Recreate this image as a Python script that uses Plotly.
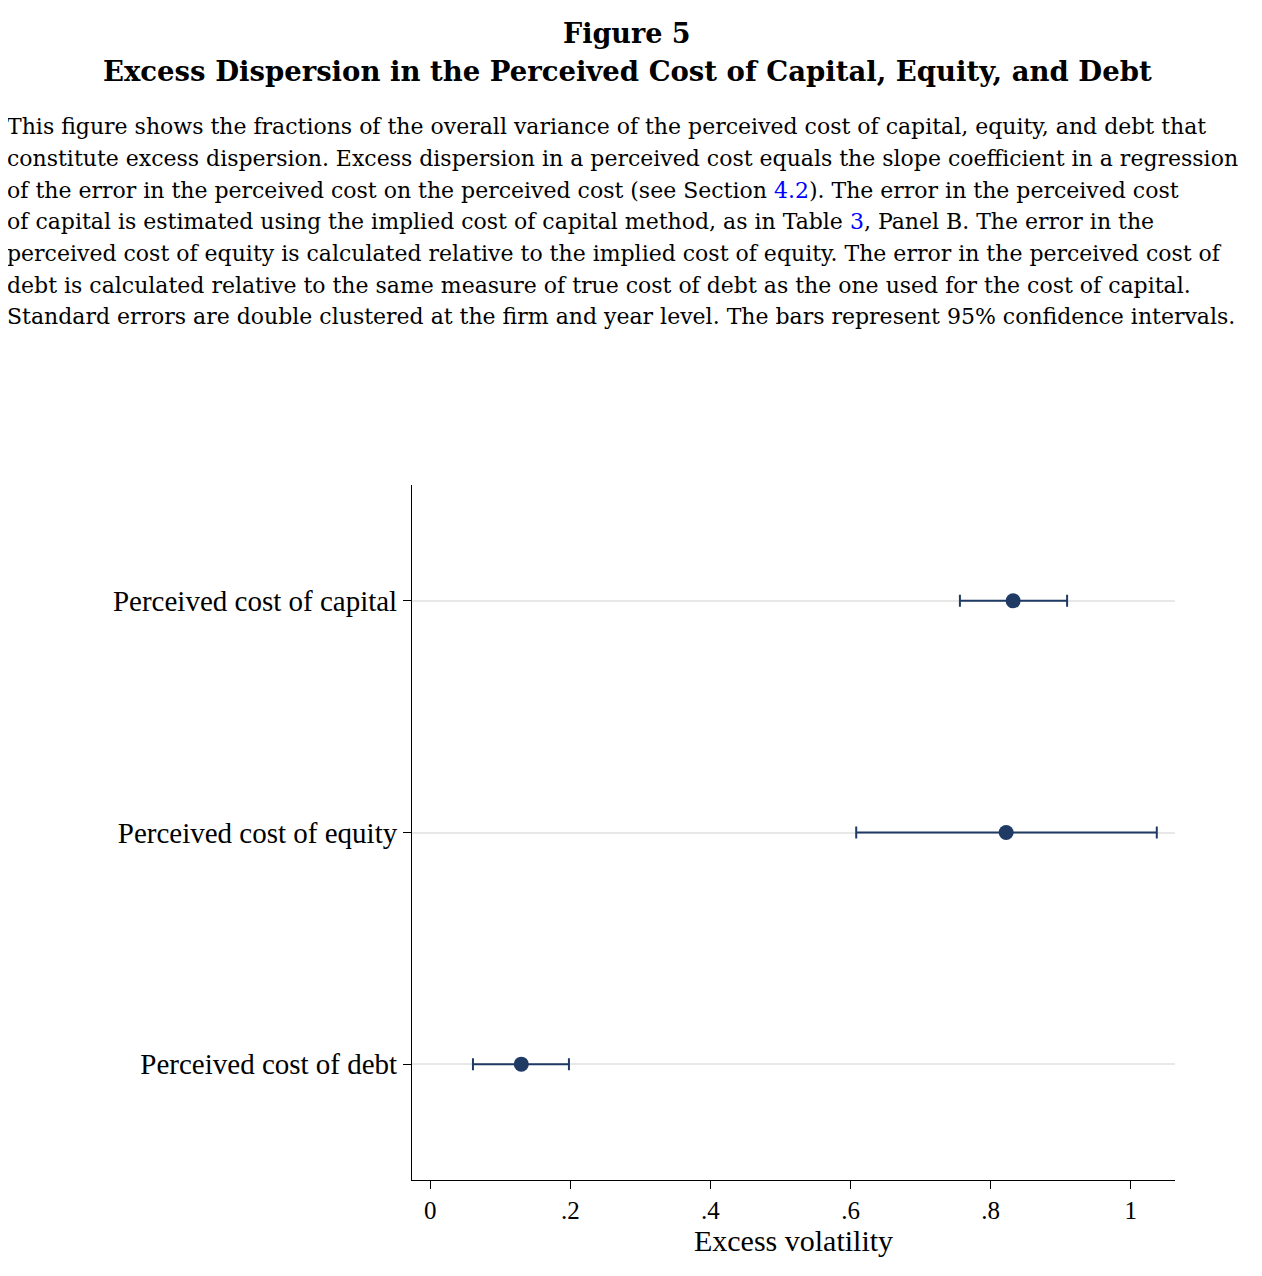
import plotly.graph_objects as go

categories = ["Perceived cost of debt", "Perceived cost of equity", "Perceived cost of capital"]
estimate = [0.130, 0.822, 0.832]
ci_low = [0.061, 0.608, 0.756]
ci_high = [0.198, 1.037, 0.909]

tick_vals = [0, 0.2, 0.4, 0.6, 0.8, 1]
tick_text = ["0", ".2", ".4", ".6", ".8", "1"]

caption = [
    "This figure shows the fractions of the overall variance of the perceived cost of capital, equity, and debt that",
    "constitute excess dispersion. Excess dispersion in a perceived cost equals the slope coefficient in a regression",
    "of the error in the perceived cost on the perceived cost (see Section <span style='color:blue'>4.2</span>). The error in the perceived cost",
    "of capital is estimated using the implied cost of capital method, as in Table <span style='color:blue'>3</span>, Panel B. The error in the",
    "perceived cost of equity is calculated relative to the implied cost of equity. The error in the perceived cost of",
    "debt is calculated relative to the same measure of true cost of debt as the one used for the cost of capital.",
    "Standard errors are double clustered at the firm and year level. The bars represent 95% confidence intervals.",
]

navy = "#1f3b63"
fig = go.Figure()
fig.add_trace(go.Scatter(
    x=estimate, y=[0, 1, 2], mode="markers",
    marker=dict(color=navy, size=15),
    error_x=dict(type="data", symmetric=False,
                 array=[h - e for h, e in zip(ci_high, estimate)],
                 arrayminus=[e - l for e, l in zip(estimate, ci_low)],
                 color=navy, thickness=2, width=6),
    showlegend=False,
))

W, H = 1262, 1276
off = 8  # page margin
l, r, t, b = 404, 95, 477, 104
ph = H - t - b
pw = W - l - r

def py(pix):
    return (H - b - (pix - off)) / ph

def px(pix):
    return (pix - off - l) / pw

fig.add_annotation(text="<b>Figure 5</b>", x=px(627), y=py(33), xref="paper", yref="paper",
                   showarrow=False, xanchor="center", yanchor="middle",
                   font=dict(family="DejaVu Serif", size=27, color="black"))
fig.add_annotation(text="<b>Excess Dispersion in the Perceived Cost of Capital, Equity, and Debt</b>",
                   x=px(627), y=py(71), xref="paper", yref="paper",
                   showarrow=False, xanchor="center", yanchor="middle",
                   font=dict(family="DejaVu Serif", size=27.5, color="black"))
for i, line in enumerate(caption):
    fig.add_annotation(text=line, x=px(5), y=py(127 + 31.6 * i), xref="paper", yref="paper",
                       showarrow=False, xanchor="left", yanchor="middle",
                       font=dict(family="DejaVu Serif", size=22, color="black"))

fig.update_layout(
    width=W, height=H, margin=dict(l=l, r=r, t=t, b=b),
    plot_bgcolor="white", paper_bgcolor="white",
    font=dict(family="Liberation Serif", size=25, color="black"),
    xaxis=dict(range=[-0.026, 1.063], tickvals=tick_vals, ticktext=tick_text,
               showgrid=False, zeroline=False, showline=True, linecolor="black",
               ticks="outside", ticklen=8, tickcolor="black",
               title=dict(text="Excess volatility", standoff=0)),
    yaxis=dict(range=[-0.5, 2.5], tickvals=[0, 1, 2], ticktext=categories,
               tickfont=dict(size=29),
               showgrid=True, gridcolor="#e8e8e8", gridwidth=1.5, zeroline=False,
               showline=True, linecolor="black", ticks="outside", ticklen=8, tickcolor="black"),
)

fig.write_html("out.html")
